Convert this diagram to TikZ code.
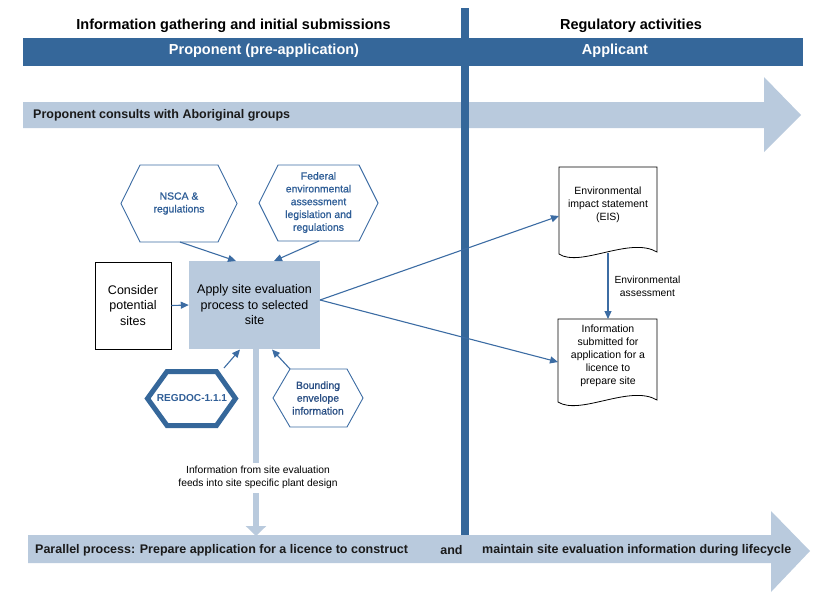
\documentclass[tikz,border=0pt]{standalone}
\usepackage{fontspec}
\setmainfont{Liberation Sans}
\newfontfamily\semib[FakeBold=1]{Liberation Sans}
\usetikzlibrary{arrows.meta}
\definecolor{dkblue}{HTML}{35679A}
\definecolor{ltblue}{HTML}{B9CADD}
\definecolor{lnblue}{HTML}{3C6CA3}
\definecolor{hxtext}{HTML}{2F5E97}
\definecolor{bdtext}{HTML}{2A4F84}
\definecolor{txdark}{HTML}{1A1A1A}
\newcommand{\fsz}[2]{\fontsize{#1}{#2}\selectfont}
\begin{document}
\begin{tikzpicture}[x=1pt,y=-1pt,
  conn/.style={draw=lnblue, line width=1.1pt, -{Triangle[length=8pt,width=7pt]}},
  hexline/.style={draw=lnblue, line width=0.9pt, fill=white},
  hexthick/.style={draw=dkblue, line width=5pt, fill=white, line join=miter},
  hexlbl/.style={text=hxtext, font=\semib\fsz{10.4}{12.8}, align=center, inner sep=0pt},
  doclbl/.style={font=\fsz{10.5}{13}, align=center, inner sep=0pt},
  docline/.style={draw=black, line width=0.8pt, fill=white},
  headtitle/.style={font=\fsz{14.5}{17}\bfseries, text=black, inner sep=0pt},
  bartext/.style={font=\fsz{14.5}{17}\bfseries, text=white, inner sep=0pt},
  arrtext/.style={font=\fsz{12.5}{15}\bfseries, text=txdark, inner sep=0pt},
  boxtext/.style={font=\fsz{12.5}{15.5}, align=center, inner sep=0pt}]
\useasboundingbox (0,0) rectangle (830,595);

% titles
\node[headtitle] (t1) at (233.5,26) {Information gathering and initial submissions};
\node[headtitle] (t2) at (631,26) {Regulatory activities};

% header bar
\node[fill=dkblue, minimum width=780pt, minimum height=28pt, inner sep=0pt] (bar) at (413,52) {};
\node[bartext] (b1) at (264,51) {Proponent (pre-application)};
\node[bartext] (b2) at (615,51) {Applicant};

% top big arrow
\fill[ltblue] (23,102) -- (764,102) -- (764,77) -- (801,115) -- (764,152) -- (764,128) -- (23,128) -- cycle;
\node[arrtext, anchor=west] (topa) at (33,115.5) {Proponent consults with Aboriginal groups};

% bottom big arrow
\fill[ltblue] (28,535) -- (771,535) -- (771,511) -- (810,551) -- (771,592) -- (771,563) -- (28,563) -- cycle;
\node[arrtext, anchor=west] (bota) at (35,550) {Parallel process: Prepare application for a licence to construct};
\node[arrtext] (bandx) at (451.5,550) {and};
\node[arrtext, anchor=west] (botb) at (482,550) {maintain site evaluation information during lifecycle};

% vertical divider
\draw[dkblue, line width=8pt] (465,8) -- (465,535);

% hexagons
\draw[hexline] (121,203.5) -- (140,165) -- (218,165) -- (237,203.5) -- (218,242) -- (140,242) -- cycle;
\node[hexlbl] (nsca) at (179,203.5) {NSCA \&\\regulations};
\coordinate (nsca-s) at (180,242);

\draw[hexline] (259,203) -- (278,165) -- (359,165) -- (378,203) -- (359,241) -- (278,241) -- cycle;
\node[hexlbl] (fed) at (318.5,202.5) {Federal\\environmental\\assessment\\legislation and\\regulations};
\coordinate (fed-s) at (319,241);

\draw[hexthick] (147.5,398.5) -- (167,371.5) -- (216.5,371.5) -- (235.5,398.5) -- (216.5,425.5) -- (167,425.5) -- cycle;
\node[hexlbl, font=\fsz{10.1}{12.8}\bfseries] (regdoc) at (192,398.5) {REGDOC-1.1.1};
\coordinate (regdoc-ne) at (224,368);

\draw[hexline] (273,398) -- (290,369) -- (347,369) -- (363,398) -- (347,427) -- (290,427) -- cycle;
\node[hexlbl, text=bdtext] (bound) at (318,398) {Bounding\\envelope\\information};
\coordinate (bound-nw) at (290,369);

% boxes
\node[draw=black, line width=0.8pt, fill=white, minimum width=76pt, minimum height=87pt, boxtext] (consider) at (133,305.5) {Consider\\potential\\sites};
\node[fill=ltblue, minimum width=131pt, minimum height=88pt, boxtext] (apply) at (254.5,305) {Apply site evaluation\\process to selected\\site};
\coordinate (apply-n1) at (236,261);
\coordinate (apply-n2) at (274,261);
\coordinate (apply-s1) at (240,349.5);
\coordinate (apply-s2) at (272,349.5);
\coordinate (apply-e) at (320,300);
\coordinate (apply-s) at (256,349);
\coordinate (bot-in) at (256,536);

% documents
\draw[docline] (559,167) -- (657,167) -- (657,252) .. controls (630,236) and (580,268) .. (559,254) -- cycle;
\node[doclbl] (eis) at (608,205) {Environmental\\impact statement\\(EIS)};
\coordinate (eis-w) at (559,216);
\coordinate (eis-s) at (608,253);

\draw[docline] (558,319) -- (657,319) -- (657,400) .. controls (630,384) and (580,416) .. (558,402) -- cycle;
\node[doclbl] (info) at (608,356) {Information\\submitted for\\application for a\\licence to\\prepare site};
\coordinate (info-n) at (608,319);
\coordinate (info-w) at (558,362);

% connectors
\draw[conn] (consider.east) -- (apply.west);
\draw[conn] (nsca-s) -- (apply-n1);
\draw[conn] (fed-s) -- (apply-n2);
\draw[conn] (regdoc-ne) -- (apply-s1);
\draw[conn] (bound-nw) -- (apply-s2);
\draw[conn] (apply-e) -- (eis-w);
\draw[conn] (apply-e) -- (info-w);
\draw[conn] (eis-s) -- node[doclbl, font=\fsz{10.3}{13}, anchor=west, xshift=6pt] (ea) {Environmental\\assessment} (info-n);

% light vertical arrow
\draw[ltblue, line width=6.5pt, -{Triangle[length=10pt,width=20pt]}] (apply-s) -- (bot-in);
\node[fill=white, font=\fsz{10.3}{13}, align=center, inner sep=1pt, minimum height=30pt] (feed) at (258,477.5) {Information from site evaluation\\feeds into site specific plant design};
\end{tikzpicture}
\end{document}
